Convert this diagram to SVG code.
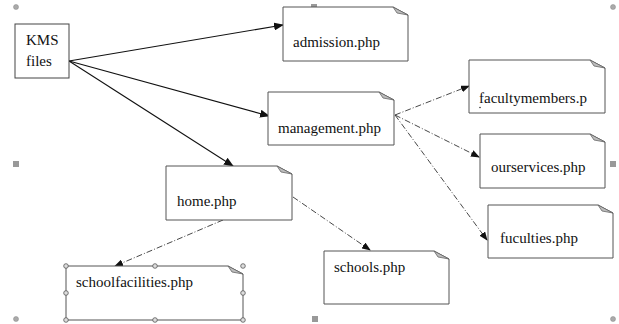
<svg xmlns="http://www.w3.org/2000/svg" width="619" height="324" viewBox="0 0 619 324">
  <style>
    text { font-family: 'Liberation Serif', 'Times New Roman', Times, serif; font-size: 15px; fill: #111; }
    .note { fill: #fff; stroke: #555; stroke-width: 1; }
    .fold { fill: #bdbdbd; stroke: #666; stroke-width: 0.8; }
    .solid { fill: none; stroke: #111; stroke-width: 1.1; }
    .dashdot { fill: none; stroke: #333; stroke-width: 0.9; stroke-dasharray: 6 2 1 2; }
    .hsq { fill: #999; }
    .hci { fill: #aaa; stroke: #888; stroke-width: 0.5; }
    .sel { fill: #ddd; stroke: #555; stroke-width: 0.8; }
  </style>
  <defs>
    <marker id="arr" markerWidth="10" markerHeight="8" refX="9" refY="4" orient="auto" markerUnits="userSpaceOnUse">
      <path d="M0,0 L10,4 L0,8 Z" fill="#111"/>
    </marker>
    <marker id="arrs" markerWidth="9" markerHeight="7" refX="8" refY="3.5" orient="auto" markerUnits="userSpaceOnUse">
      <path d="M0,0 L9,3.5 L0,7 Z" fill="#111"/>
    </marker>
  </defs>

  <!-- canvas handles -->
  <g id="canvas-handles">
    <circle class="hci" cx="16" cy="7" r="2.5"/>
    <rect class="hsq" x="311" y="4" width="6" height="6"/>
    <circle class="hci" cx="613" cy="7" r="2.5"/>
    <rect class="hsq" x="13" y="161" width="6" height="6"/>
    <rect class="hsq" x="610" y="161" width="6" height="6"/>
    <circle class="hci" cx="16" cy="319" r="2.5"/>
    <rect class="hsq" x="312" y="316" width="6" height="6"/>
    <circle class="hci" cx="613" cy="319" r="2.5"/>
  </g>

  <!-- connectors -->
  <g id="connectors">
    <line class="solid" x1="69" y1="61" x2="283" y2="25" marker-end="url(#arr)"/>
    <line class="solid" x1="69" y1="61" x2="269" y2="116" marker-end="url(#arr)"/>
    <line class="solid" x1="69" y1="61" x2="233" y2="166" marker-end="url(#arr)"/>
    <line class="dashdot" x1="395" y1="115" x2="469" y2="86" marker-end="url(#arrs)"/>
    <line class="dashdot" x1="395" y1="115" x2="479" y2="157" marker-end="url(#arrs)"/>
    <line class="dashdot" x1="395" y1="115" x2="487" y2="240" marker-end="url(#arrs)"/>
    <line class="dashdot" x1="293" y1="197" x2="370" y2="250" marker-end="url(#arrs)"/>
    <line class="dashdot" x1="223" y1="220" x2="115" y2="266" marker-end="url(#arrs)"/>
  </g>

  <g id="kms-files">
    <rect x="15" y="24" width="54" height="54" fill="#fff" stroke="#444" stroke-width="1"/>
    <text x="26" y="45">KMS</text>
    <text x="26" y="66">files</text>
  </g>

  <g id="admission">
    <path class="note" d="M283,7 H393 L408,15 V61 H283 Z"/>
    <path class="fold" d="M393,7 L397,13 L408,15 Z"/>
    <text x="293" y="47">admission.php</text>
  </g>

  <g id="management">
    <path class="note" d="M268,92 H379 L394,100 V145 H268 Z"/>
    <path class="fold" d="M379,92 L383,98 L394,100 Z"/>
    <text x="278" y="133">management.php</text>
  </g>

  <g id="facultymembers">
    <path class="note" d="M469,60 H590 L605,68 V113 H469 Z"/>
    <path class="fold" d="M590,60 L594,66 L605,68 Z"/>
    <text x="479" y="103">facultymembers.p</text>
    <circle cx="480" cy="107.5" r="0.8" fill="#333"/>
  </g>

  <g id="ourservices">
    <path class="note" d="M480,134 H590 L605,142 V188 H480 Z"/>
    <path class="fold" d="M590,134 L594,140 L605,142 Z"/>
    <text x="491" y="172">ourservices.php</text>
  </g>

  <g id="fuculties">
    <path class="note" d="M488,205 H598 L613,213 V258 H488 Z"/>
    <path class="fold" d="M598,205 L602,211 L613,213 Z"/>
    <text x="500" y="243">fuculties.php</text>
  </g>

  <g id="home">
    <path class="note" d="M166,166 H277 L292,174 V220 H166 Z"/>
    <path class="fold" d="M277,166 L281,172 L292,174 Z"/>
    <text x="177" y="206">home.php</text>
  </g>

  <g id="schools">
    <path class="note" d="M324,251 H434 L449,259 V304 H324 Z"/>
    <path class="fold" d="M434,251 L438,257 L449,259 Z"/>
    <text x="334" y="272">schools.php</text>
  </g>

  <g id="schoolfacilities">
    <path class="note" d="M66,266 H228 L243,274 V320 H66 Z"/>
    <path class="fold" d="M228,266 L232,272 L243,274 Z"/>
    <text x="76" y="287">schoolfacilities.php</text>
    <circle class="sel" cx="66" cy="266" r="2.3"/>
    <circle class="sel" cx="155" cy="266" r="2.3"/>
    <circle class="sel" cx="243" cy="266" r="2.3"/>
    <circle class="sel" cx="66" cy="293" r="2.3"/>
    <circle class="sel" cx="243" cy="293" r="2.3"/>
    <circle class="sel" cx="66" cy="320" r="2.3"/>
    <circle class="sel" cx="155" cy="320" r="2.3"/>
    <circle class="sel" cx="243" cy="320" r="2.3"/>
  </g>
</svg>
